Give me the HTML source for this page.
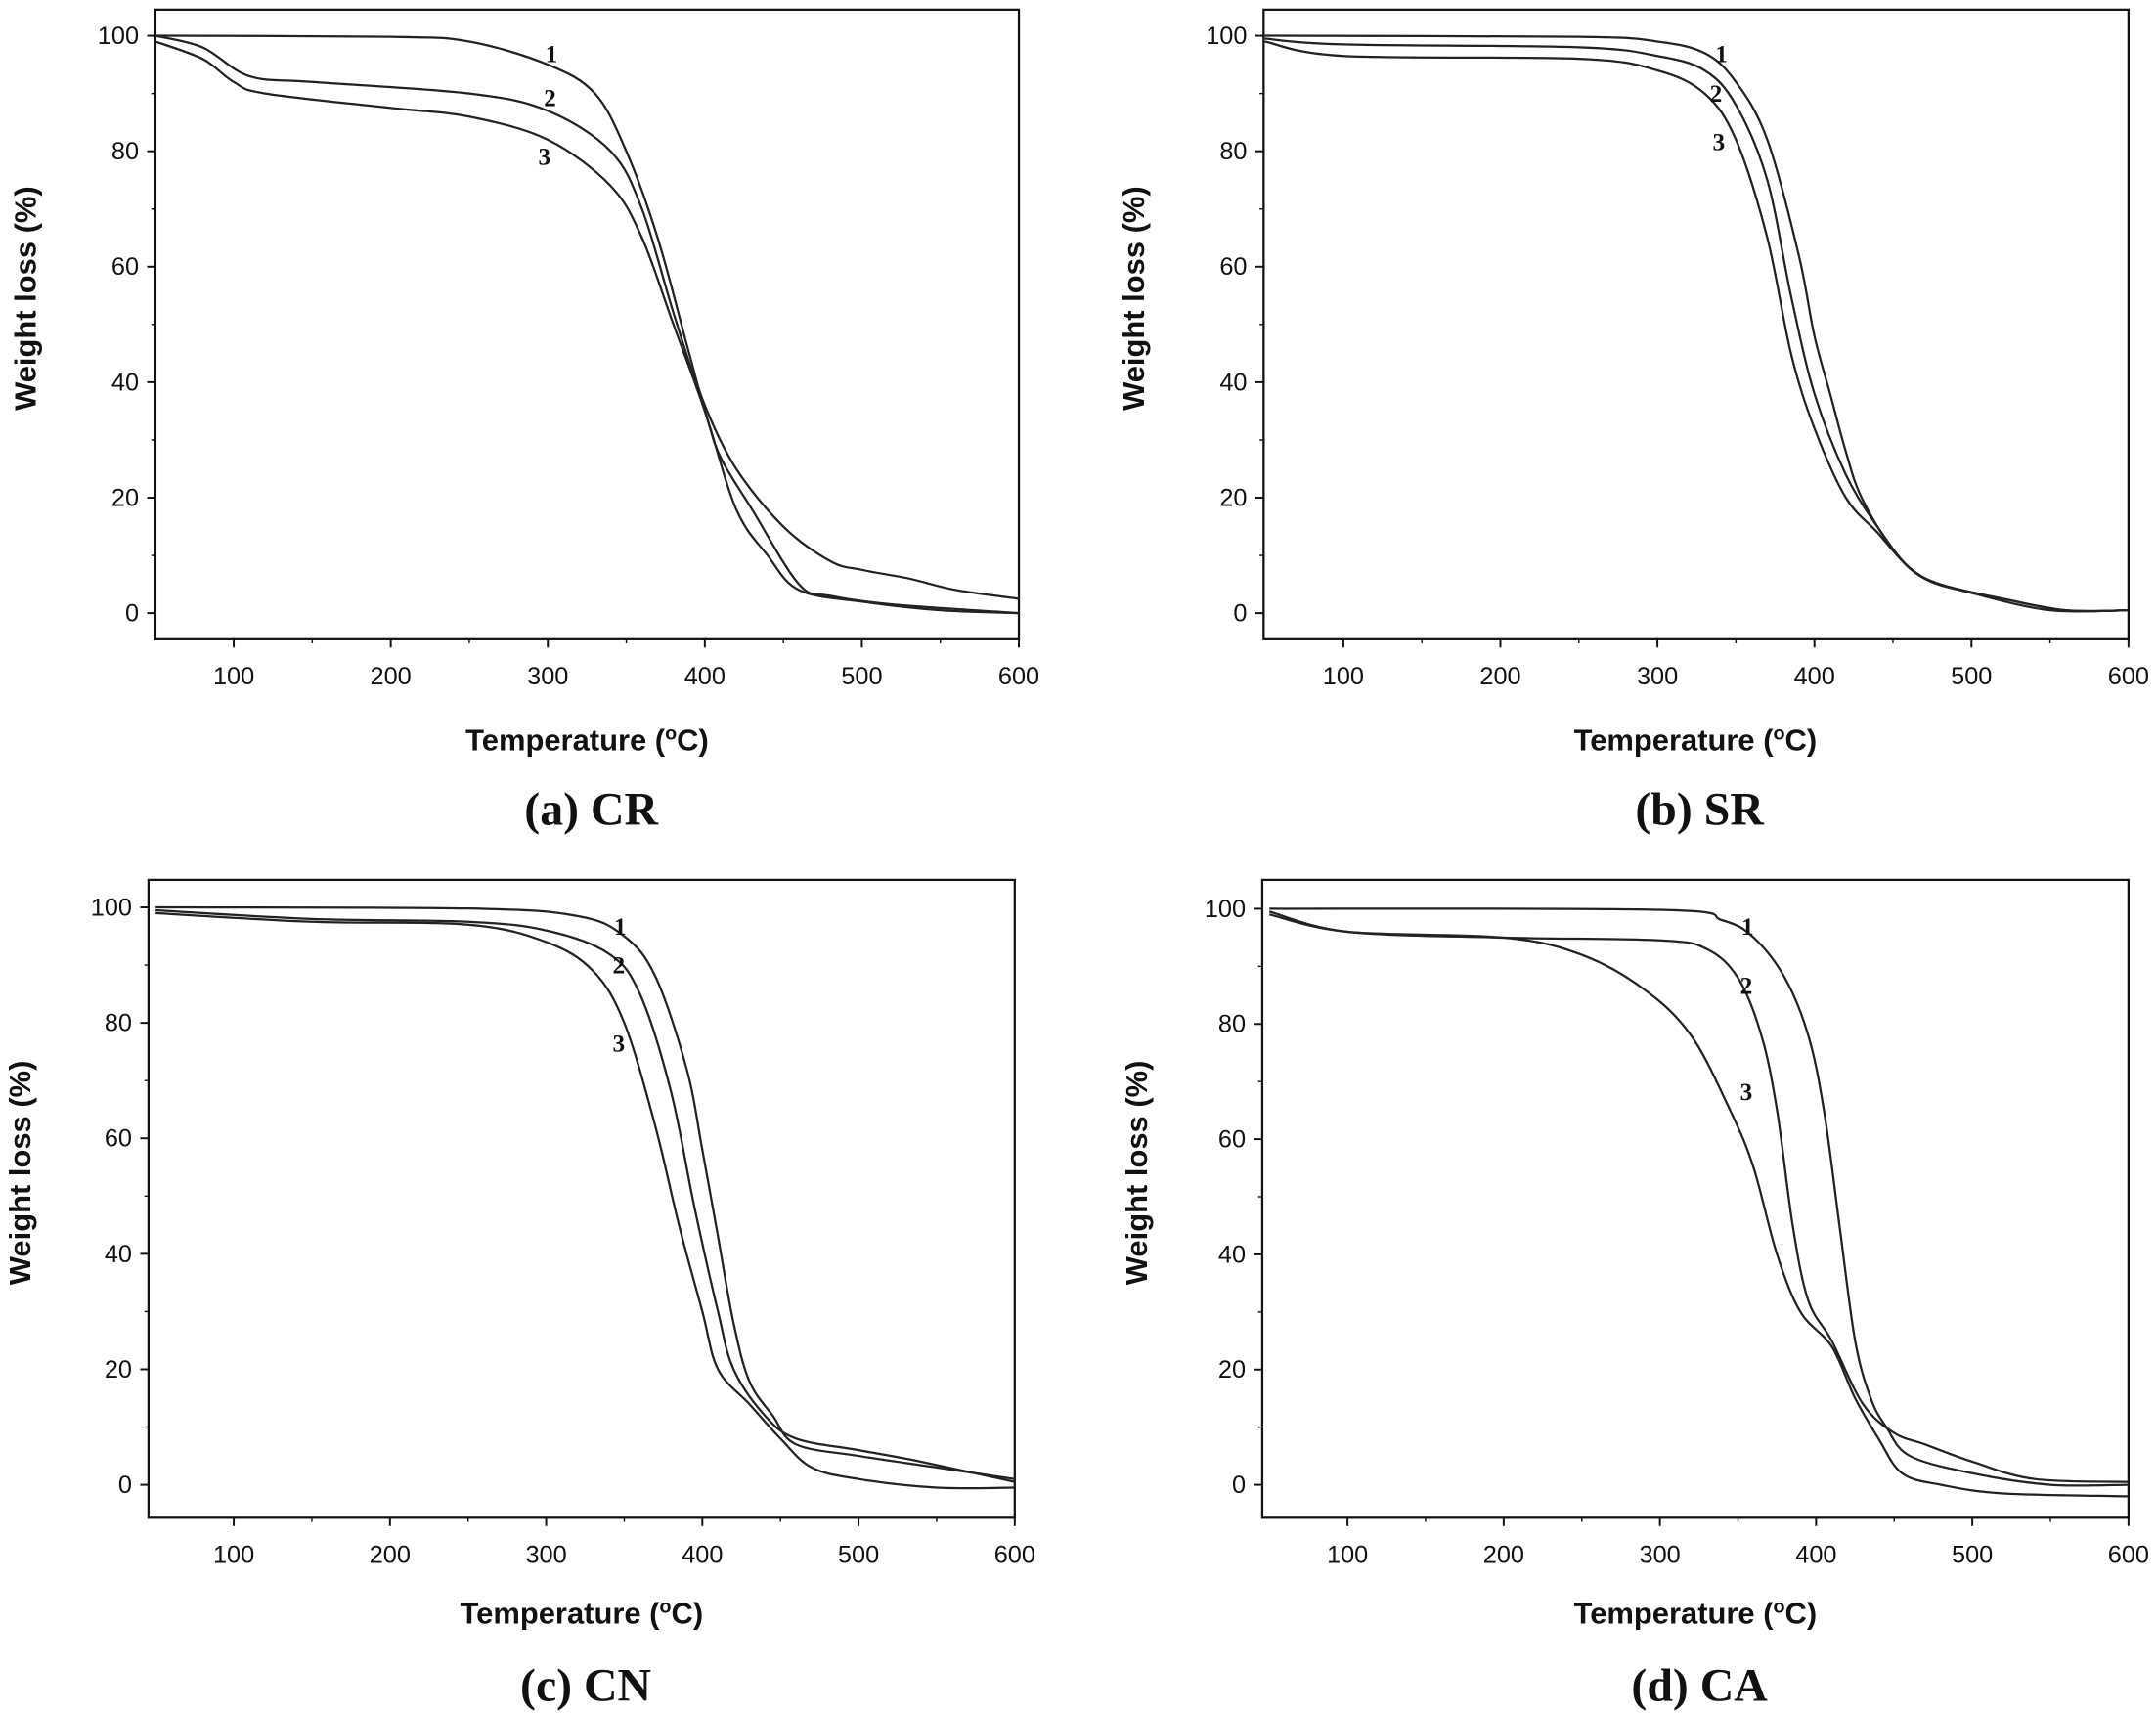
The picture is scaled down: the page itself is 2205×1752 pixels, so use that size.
<!DOCTYPE html>
<html><head><meta charset="utf-8"><style>
html,body{margin:0;padding:0;background:#fff;}
svg{display:block;}
.t{font-family:"Liberation Sans",Arial,sans-serif;font-size:18px;fill:#111;}
.at{font-family:"Liberation Sans",Arial,sans-serif;font-size:22px;font-weight:bold;fill:#111;}
.cap{font-family:"Liberation Serif","Times New Roman",serif;font-size:34px;font-weight:bold;fill:#111;}
.lab{font-family:"Liberation Serif",serif;font-size:18px;font-weight:bold;fill:#111;}
</style></head><body>
<svg id="s" width="2205" height="1752" viewBox="0 0 1568 1246" preserveAspectRatio="none" xmlns="http://www.w3.org/2000/svg"></svg>
<script>
const S=document.getElementById('s');
const P=[
{L:113,R:741,T:7,B:465,x100:170,x600:741,y100:26,y0:446,yl:18,my:217,cx:427,ty:538,cy:588,cap:"(a) CR",
c:[[[50,100],[200,99.8],[250,99],[300,95],[330,90],[350,80],[370,65],[390,45],[400,36],[420,25],[450,15],[480,9],[500,7.5],[530,6],[560,4],[600,2.5]],
[[50,100],[80,98],[110,93],[150,92],[250,90],[300,87],[340,80],[360,70],[380,52],[400,35],[410,27],[430,18],[460,5],[480,3],[520,1.5],[600,0]],
[[50,99],[80,96],[100,92],[120,90],[200,87.5],[250,86],[300,82],[340,74],[360,65],[380,50],[400,35],[420,18],[440,10],[460,4],[500,2],[550,0.5],[600,0]]],
l:[[401,45],[400,77],[396,120]]},
{L:919,R:1548,T:7,B:465,x100:977,x600:1548,y100:26,y0:446,yl:824,my:217,cx:1233,ty:538,cy:588,cap:"(b) SR",
c:[[[50,100],[250,99.8],[300,99],[330,97],[350,92],[370,82],[390,62],[400,48],[410,38],[420,28],[430,20],[450,11],[470,6],[500,3.5],[550,0.5],[600,0.5]],
[[50,99.5],[100,98.5],[250,98],[300,96.5],[330,94],[350,88],[370,75],[385,55],[400,38],[420,24],[440,15],[460,8],[480,5],[520,2.5],[560,0.5],[600,0.5]],
[[50,99],[100,96.5],[250,96],[300,94],[330,90],[350,82],[370,65],[385,45],[400,32],[420,20],[440,14],[460,8],[480,5],[520,2.5],[560,0.5],[600,0.5]]],
l:[[1252,45],[1248,74],[1250,109]]},
{L:108,R:738,T:640,B:1104,x100:170,x600:738,y100:660,y0:1080,yl:14,my:853,cx:423,ty:1173,cy:1225,cap:"(c) CN",
c:[[[50,100],[250,99.8],[320,98.5],[350,95],[370,88],[390,72],[400,58],[410,43],[420,28],[430,18],[445,12],[460,7],[500,5],[550,3],[600,1]],
[[50,99.5],[150,98],[250,97.5],[300,96],[340,92],[360,85],[380,68],[395,48],[410,30],[420,20],[440,12],[460,8],[500,6],[540,4],[600,0.5]],
[[50,99],[150,97.5],[250,97],[300,94],[330,89],[350,80],[370,62],[385,45],[400,30],[410,20],[430,14],[450,8],[470,3],[500,1],[550,-0.5],[600,-0.5]]],
l:[[451,680],[450,708],[450,765]]},
{L:918,R:1548,T:640,B:1104,x100:980,x600:1548,y100:661,y0:1080,yl:826,my:853,cx:1233,ty:1173,cy:1225,cap:"(d) CA",
c:[[[50,100],[300,99.8],[340,98],[360,95],[380,88],[395,78],[405,65],[415,45],[425,25],[435,15],[445,10],[460,5],[500,2],[550,0],[600,0]],
[[50,99.5],[100,96],[200,95],[300,94.5],[330,93],[350,88],[365,78],[375,65],[385,45],[395,32],[410,25],[430,14],[450,9],[470,7],[500,4],[540,1],[600,0.5]],
[[50,99],[100,96],[200,95],[250,92],[290,86],[320,78],[345,65],[360,55],[375,40],[390,30],[410,24],[425,15],[440,8],[455,2],[480,0],[520,-1.5],[600,-2]]],
l:[[1271,680],[1270,723],[1270,800]]}
];
let h='';
for(const p of P){
 const kx=(p.x600-p.x100)/500, ky=(p.y0-p.y100)/100;
 const X=t=>p.x100+(t-100)*kx, Y=w=>p.y0-w*ky;
 h+=`<rect x="${p.L}" y="${p.T}" width="${p.R-p.L}" height="${p.B-p.T}" fill="none" stroke="#111" stroke-width="1.6"/>`;
 for(let t=100;t<=600;t+=100){h+=`<line x1="${X(t)}" y1="${p.B}" x2="${X(t)}" y2="${p.B+6}" stroke="#111" stroke-width="1.4"/><text class="t" x="${X(t)}" y="${p.B+33}" text-anchor="middle">${t}</text>`;}
 for(let t=150;t<600;t+=100){h+=`<line x1="${X(t)}" y1="${p.B}" x2="${X(t)}" y2="${p.B+3}" stroke="#111"/>`;}
 for(let w=0;w<=100;w+=20){h+=`<line x1="${p.L-6}" y1="${Y(w)}" x2="${p.L}" y2="${Y(w)}" stroke="#111" stroke-width="1.4"/><text class="t" x="${p.L-12}" y="${Y(w)+6}" text-anchor="end">${w}</text>`;}
 for(let w=10;w<100;w+=20){h+=`<line x1="${p.L-3}" y1="${Y(w)}" x2="${p.L}" y2="${Y(w)}" stroke="#111"/>`;}
 h+=`<text class="at" transform="translate(${p.yl+8},${p.my}) rotate(-90)" text-anchor="middle">Weight loss (%)</text>`;
 h+=`<text class="at" x="${p.cx}" y="${p.ty+8}" text-anchor="middle">Temperature (<tspan dy="-8" font-size="14">o</tspan><tspan dy="8">C)</tspan></text>`;
 h+=`<text class="cap" x="${p.cx+3}" y="${p.cy+12}" text-anchor="middle">${p.cap}</text>`;
 for(const c of p.c){
  const pts=c.map(([t,w])=>[X(t),Y(w)]);
  let d=`M${pts[0][0].toFixed(1)},${pts[0][1].toFixed(1)}`;
  for(let i=0;i<pts.length-1;i++){
   const p0=pts[Math.max(0,i-1)],p1=pts[i],p2=pts[i+1],p3=pts[Math.min(pts.length-1,i+2)];
   const c1=[p1[0]+(p2[0]-p0[0])/6,p1[1]+(p2[1]-p0[1])/6],c2=[p2[0]-(p3[0]-p1[0])/6,p2[1]-(p3[1]-p1[1])/6];
   d+=`C${c1[0].toFixed(1)},${c1[1].toFixed(1)} ${c2[0].toFixed(1)},${c2[1].toFixed(1)} ${p2[0].toFixed(1)},${p2[1].toFixed(1)}`;
  }
  h+=`<path d="${d}" fill="none" stroke="#222" stroke-width="1.6"/>`;
 }
 p.l.forEach((q,i)=>{h+=`<text class="lab" x="${q[0]}" y="${q[1]}" text-anchor="middle">${i+1}</text>`;});
}
S.innerHTML=h;
</script>
</body></html>
